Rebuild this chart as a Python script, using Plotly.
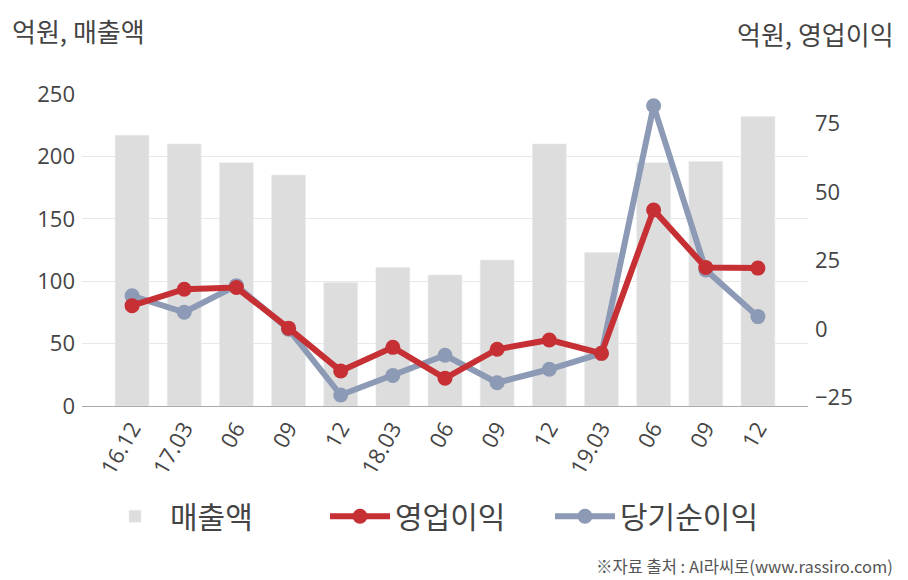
import plotly.graph_objects as go

categories = ["16.12", "17.03", "06", "09", "12", "18.03", "06 ", "09 ", "12 ", "19.03", "06  ", "09  ", "12  "]
tick_labels = ["16.12", "17.03", "06", "09", "12", "18.03", "06", "09", "12", "19.03", "06", "09", "12"]
sales = [217, 210, 195, 185, 99, 111, 105, 117, 210, 123, 195, 196, 232]
operating_profit = [8.6, 14.6, 15.2, 0.4, -15.2, -6.6, -17.9, -7.3, -3.9, -8.8, 43.5, 22.5, 22.3]
net_income = [12.2, 6.2, 15.9, 0.0, -24.0, -16.9, -9.5, -19.5, -14.6, -8.8, 81.5, 21.6, 4.6]

FONT = "Open Sans, Noto Sans CJK KR, sans-serif"
KFONT = "Noto Sans CJK KR, sans-serif"
RED = "#c62f33"
BLUE = "#8d9ab5"
GRAY = "#dddddd"
TXT = "#444444"

x = list(range(len(categories)))

fig = go.Figure()
fig.add_trace(go.Bar(x=x, y=sales, name="매출액", marker_color=GRAY, width=0.65,
                     yaxis="y", legendrank=1))
fig.add_trace(go.Scatter(x=x, y=net_income, name="당기순이익", mode="lines+markers",
                         line=dict(color=BLUE, width=6), marker=dict(size=15, color=BLUE),
                         yaxis="y2", legendrank=3))
fig.add_trace(go.Scatter(x=x, y=operating_profit, name="영업이익", mode="lines+markers",
                         line=dict(color=RED, width=6), marker=dict(size=15, color=RED),
                         yaxis="y2", legendrank=2))

fig.update_layout(
    width=908, height=580,
    margin=dict(l=82, r=100, t=94, b=174),
    paper_bgcolor="white", plot_bgcolor="white",
    font=dict(family=FONT, color=TXT),
    showlegend=True,
    legend=dict(orientation="h", x=(100 - 82) / 726, xanchor="left", y=-0.27, yanchor="top",
                font=dict(family=KFONT, size=30, color=TXT), itemwidth=60,
                entrywidth=150, entrywidthmode="pixels",
                traceorder="normal", bgcolor="rgba(0,0,0,0)"),
    xaxis=dict(tickmode="array", tickvals=x, ticktext=tick_labels, range=[-0.96, 12.96],
               tickangle=-60, tickfont=dict(size=22, color=TXT), showgrid=False,
               showline=True, linecolor="#aaaaaa", linewidth=1, ticks="", zeroline=False),
    yaxis=dict(range=[0, 250], tickvals=[0, 50, 100, 150, 200, 250],
               tickfont=dict(size=22, color=TXT), gridcolor="#e8e8e8", gridwidth=1,
               zeroline=False, showline=False, ticks="", ticklabelstandoff=6),
    yaxis2=dict(range=[-28.0, 85.8], overlaying="y", side="right",
                tickvals=[-25, 0, 25, 50, 75], tickfont=dict(size=22, color=TXT),
                showgrid=False, zeroline=False, showline=False, ticks="", ticklabelstandoff=6),
    bargap=0.35,
    annotations=[
        dict(text="억원, 매출액", xref="paper", yref="paper", x=-72/726, y=1 + (94 - 30) / 312,
             xanchor="left", yanchor="middle", showarrow=False,
             font=dict(family=KFONT, size=26, color=TXT)),
        dict(text="억원, 영업이익", xref="paper", yref="paper", x=1 + 88/726, y=1 + (94 - 33) / 312,
             xanchor="right", yanchor="middle", showarrow=False,
             font=dict(family=KFONT, size=26, color=TXT)),
        dict(text="※자료 출처 : AI라씨로(www.rassiro.com)", xref="paper", yref="paper",
             x=1 + 87/726, y=-(566 - 406) / 312, xanchor="right", yanchor="middle",
             showarrow=False, font=dict(family=KFONT, size=16.5, color="#555555")),
    ],
)

fig.write_html("out.html")
